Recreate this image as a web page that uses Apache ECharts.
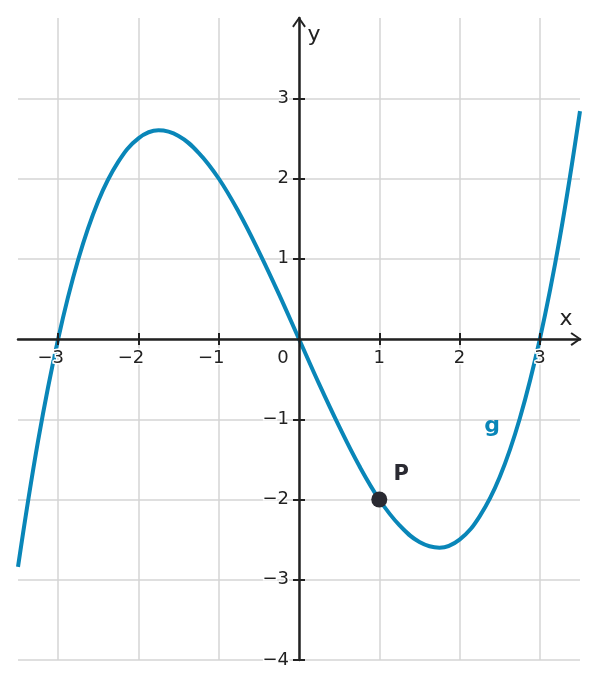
<!DOCTYPE html>
<html><head><meta charset="utf-8">
<script src="https://cdn.jsdelivr.net/npm/echarts@6/dist/echarts.min.js"></script>
<style>html,body{margin:0;padding:0;background:#fff}#c{width:599px;height:689px}</style>
</head><body><div id="c"></div>
<script>
const xTicks = [-3, -2, -1, 1, 2, 3];
const xLabels = [-3, -2, -1, 0, 1, 2, 3];
const yTicks = [-4, -3, -2, -1, 1, 2, 3];
const xGrid = [-3, -2, -1, 0, 1, 2, 3];
const yGrid = [-4, -3, -2, -1, 0, 1, 2, 3];
const curveX = [-3.5, -3.25, -3, -2.75, -2.5, -2.25, -2, -1.75, -1.5, -1.25, -1, -0.75, -0.5, -0.25, 0,
  0.25, 0.5, 0.75, 1, 1.25, 1.5, 1.75, 2, 2.25, 2.5, 2.75, 3, 3.25, 3.5];
const curveY = [-2.84, -1.27, 0, 0.99, 1.72, 2.21, 2.5, 2.6, 2.53, 2.32, 2, 1.58, 1.09, 0.56, 0,
  -0.56, -1.09, -1.58, -2, -2.32, -2.53, -2.6, -2.5, -2.21, -1.72, -0.99, 0, 1.27, 2.84];
const pointP = [1, -2];

const FONT = 'DejaVu Sans';
const INK = '#222222';
const BLUE = '#0986b8';
const chev = 'path://M0,10 L7,0 L14,10 L12.4,11.2 L7,3.2 L1.6,11.2 Z';

// grid geometry (pixels)
const G = { left: 18, right: 19, top: 18, bottom: 29 };
const W = 599 - G.left - G.right, H = 689 - G.top - G.bottom;
const X_OFF = -Math.round(H * 4 / 8);      // move x axis from bottom up to y = 0
const Y_OFF = -Math.round(W * 3.5 / 7);    // move y axis from left to x = 0

const chart = echarts.init(document.getElementById('c'));
const minus = v => (v < 0 ? '\u2212' + (-v) : String(v));
const lineStyle = { color: INK, width: 2.5 };

chart.setOption({
  animation: false,
  backgroundColor: '#fff',
  grid: Object.assign({ containLabel: false, outerBoundsMode: 'none' }, G),
  xAxis: [
    {
      type: 'value', min: -3.5, max: 3.5, position: 'bottom', offset: X_OFF, z: 3,
      axisLine: { show: true, onZero: false, lineStyle, symbol: ['none', chev], symbolSize: [14, 11], symbolOffset: [0, -4] },
      axisTick: { show: true, customValues: xTicks, length: 6, lineStyle: { color: INK, width: 2 } },
      axisLabel: {
        show: true, customValues: xLabels, margin: 10,
        formatter: v => (v < 0 ? '{n|\u2212' + (-v) + '}' : v === 0 ? '{z|0}' : '{p|' + v + '}'),
        rich: {
          n: { fontFamily: FONT, fontSize: 18, color: INK, padding: [0, 15, 0, 0], textBorderColor: '#fff', textBorderWidth: 3 },
          z: { fontFamily: FONT, fontSize: 18, color: INK, padding: [0, 32, 0, 0], textBorderColor: '#fff', textBorderWidth: 3 },
          p: { fontFamily: FONT, fontSize: 18, color: INK, textBorderColor: '#fff', textBorderWidth: 3 }
        }
      },
      splitLine: { show: false }
    },
    {
      type: 'value', min: -3.5, max: 3.5, position: 'bottom', offset: X_OFF, z: 3,
      axisLine: { show: false, onZero: false },
      axisTick: { show: true, inside: true, customValues: xTicks, length: 6, lineStyle: { color: INK, width: 2 } },
      axisLabel: { show: false },
      splitLine: { show: false }
    },
    {
      type: 'value', min: -3.5, max: 3.5, position: 'bottom', z: 0,
      axisLine: { show: false, onZero: false },
      axisTick: { show: false, customValues: xGrid },
      axisLabel: { show: false },
      splitLine: { show: true, lineStyle: { color: '#d4d4d4', width: 1.5 } }
    }
  ],
  yAxis: [
    {
      type: 'value', min: -4, max: 4, position: 'left', offset: Y_OFF, z: 3,
      axisLine: { show: true, onZero: false, lineStyle, symbol: ['none', chev], symbolSize: [14, 11], symbolOffset: [0, -4] },
      axisTick: { show: true, customValues: yTicks, length: 6, lineStyle: { color: INK, width: 2 } },
      axisLabel: {
        show: true, customValues: yTicks, margin: 10, formatter: minus,
        fontFamily: FONT, fontSize: 18, color: INK, textBorderColor: '#fff', textBorderWidth: 3
      },
      splitLine: { show: false }
    },
    {
      type: 'value', min: -4, max: 4, position: 'left', offset: Y_OFF, z: 3,
      axisLine: { show: false, onZero: false },
      axisTick: { show: true, inside: true, customValues: yTicks, length: 6, lineStyle: { color: INK, width: 2 } },
      axisLabel: { show: false },
      splitLine: { show: false }
    },
    {
      type: 'value', min: -4, max: 4, position: 'left', z: 0,
      axisLine: { show: false, onZero: false },
      axisTick: { show: false, customValues: yGrid },
      axisLabel: { show: false },
      splitLine: { show: true, lineStyle: { color: '#d4d4d4', width: 1.5 } }
    }
  ],
  series: [
    {
      type: 'line', xAxisIndex: 0, yAxisIndex: 0, z: 2,
      data: curveX.map((x, i) => [x, curveY[i]]),
      smooth: 0.4, showSymbol: false, clip: true,
      lineStyle: { color: BLUE, width: 4 }
    },
    {
      type: 'scatter', xAxisIndex: 0, yAxisIndex: 0, z: 5,
      data: [pointP], symbolSize: 16,
      itemStyle: { color: '#2a2a32', opacity: 1 },
      label: {
        show: true, formatter: 'P', position: 'top', offset: [22, -1],
        fontFamily: FONT, fontSize: 21, fontWeight: 'bold', color: '#2a2a32', opacity: 1
      },
      emphasis: { disabled: true }
    }
  ],
  graphic: [
    { type: 'text', x: 566, y: 319, z: 10, style: { text: 'x', font: '22px "DejaVu Sans"', fill: INK, align: 'center', verticalAlign: 'middle', textAlign: 'center', textVerticalAlign: 'middle' } },
    { type: 'text', x: 314, y: 35, z: 10, style: { text: 'y', font: '22px "DejaVu Sans"', fill: INK, align: 'center', verticalAlign: 'middle', textAlign: 'center', textVerticalAlign: 'middle' } },
    { type: 'text', x: 492, y: 426, z: 10, style: { text: 'g', font: 'bold 22px "DejaVu Sans"', fill: BLUE, align: 'center', verticalAlign: 'middle', textAlign: 'center', textVerticalAlign: 'middle' } }
  ]
});
</script></body></html>
